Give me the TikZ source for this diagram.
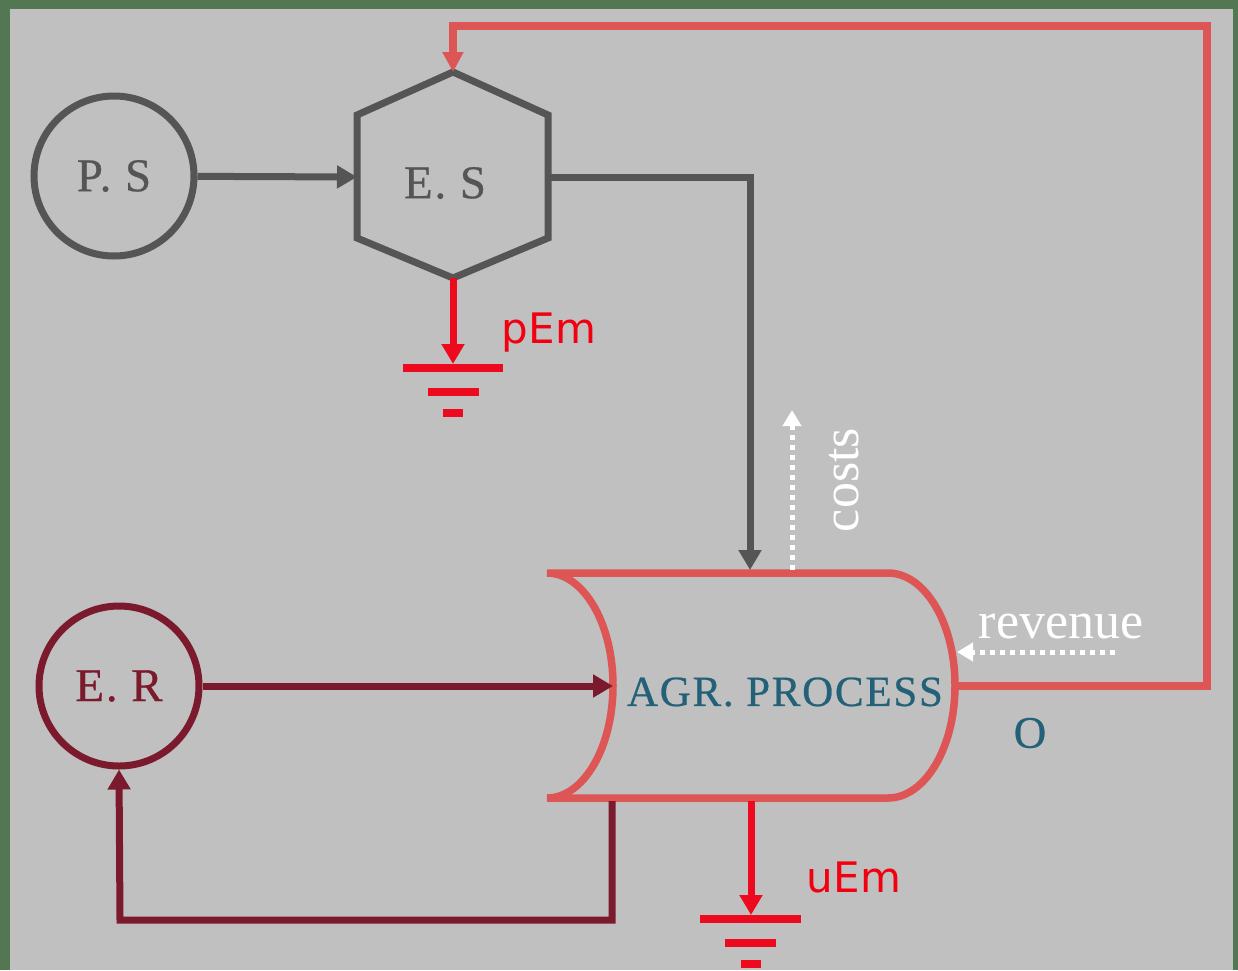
\documentclass[tikz,border=0pt]{standalone}
\usepackage{fontspec}
\setmainfont{Liberation Serif}
\newfontfamily\labelserif{Liberation Serif}[FakeBold=0.6, LetterSpace=4]
\newfontfamily\sansf{DejaVu Sans}
\usetikzlibrary{arrows.meta}
\definecolor{bgGray}{HTML}{C0C0C0}
\definecolor{frameGreen}{HTML}{537653}
\definecolor{darkGray}{HTML}{555555}
\definecolor{procRed}{HTML}{DD5555}
\definecolor{brightRed}{HTML}{EE0A1E}
\definecolor{textRed}{HTML}{F20010}
\definecolor{erRed}{HTML}{7B1A2C}
\definecolor{tealText}{HTML}{236178}
\tikzset{
  tip/.style={-{Triangle[length=20pt,width=22pt]}},
  grayline/.style={draw=darkGray, line width=7pt},
  redline/.style={draw=procRed, line width=7.5pt},
  erline/.style={draw=erRed, line width=7pt},
  emline/.style={draw=brightRed, line width=7pt},
  groundbar/.style={draw=brightRed, line width=8pt},
  dotline/.style={draw=white, line width=5pt, dash pattern=on 5pt off 5pt},
  ringnode/.style={circle, minimum size=160pt, line width=7pt, inner sep=0pt},
  serifbig/.style={font=\labelserif\fontsize{47}{56}\selectfont},
  sanslabel/.style={font=\sansf\fontsize{42}{50}\selectfont, text=textRed},
  whitelabel/.style={font=\fontsize{52}{60}\selectfont, text=white},
}
\begin{document}
\begin{tikzpicture}[x=1pt,y=-1pt]
\useasboundingbox (0,0) rectangle (1238,970);
\fill[frameGreen] (0,0) rectangle (1238,970);
\fill[bgGray] (10,9) rectangle (1233,970);

% P.S and E.R circles
\node[ringnode, draw=darkGray, text=darkGray, serifbig] (ps) at (114,176) {P. S};
\node[ringnode, draw=erRed, text=erRed, serifbig] (er) at (119,686) {E. R};

% hexagon E.S
\coordinate (hT) at (453,72);
\coordinate (hUR) at (548,115);
\coordinate (hLR) at (548,238);
\coordinate (hB) at (453,278);
\coordinate (hLL) at (357,238);
\coordinate (hUL) at (357,115);
\draw[grayline, line join=miter] (hT) -- (hUR) -- (hLR) -- (hB) -- (hLL) -- (hUL) -- cycle;
\node[serifbig, text=darkGray] (es) at (445,183) {E. S};
\coordinate (hL) at (357,177);
\coordinate (hR) at (548,177);

% AGR process shape
\coordinate (aTL) at (547,573);
\coordinate (aTR) at (888,573);
\coordinate (aBL) at (547,798);
\draw[redline] (aTL) -- (aTR) arc[start angle=-90, end angle=90, x radius=67, y radius=112.5]
  -- (aBL) arc[start angle=90, end angle=-90, x radius=66, y radius=112.5] -- cycle;
\node[font=\labelserif\fontsize{43}{54}\selectfont, text=tealText] (agr) at (785,692) {AGR. PROCESS};
\coordinate (aL) at (613,686);
\coordinate (aR) at (955,686);
\coordinate (aTop) at (750,570);
\coordinate (aBot1) at (612,801);
\coordinate (aBot2) at (751,801);

% P.S -> E.S
\draw[grayline, tip] (ps) -- (hL);
% E.S -> AGR
\coordinate (esBend) at (750,177);
\draw[grayline, tip, line join=miter] (hR) -- (esBend) -- (aTop);

% E.R -> AGR
\draw[erline, tip] (er) -- (aL);
% AGR -> E.R feedback
\coordinate (fb1) at (612,920);
\coordinate (fb2) at (120,920);
\draw[erline, tip, line join=miter] (aBot1) -- (fb1) -- (fb2) -- (er.south);

% output loop to E.S
\coordinate (o1) at (1207,686);
\coordinate (o2) at (1207,26);
\coordinate (o3) at (453,26);
\draw[redline, line join=miter, -{Triangle[length=20pt,width=20pt]}] (aR) -- (o1) -- (o2) -- (o3) -- (hT);
\node[font=\labelserif\fontsize{45}{54}\selectfont, text=tealText] (olab) at (1030,733) {O};

% pEm ground
\coordinate (pg) at (453,364);
\draw[emline, tip] (hB) -- (pg);
\coordinate (pg1a) at (403,368); \coordinate (pg1b) at (503,368);
\coordinate (pg2a) at (428,392); \coordinate (pg2b) at (479,392);
\coordinate (pg3a) at (443,413); \coordinate (pg3b) at (463,413);
\draw[groundbar] (pg1a) -- (pg1b);
\draw[groundbar] (pg2a) -- (pg2b);
\draw[groundbar] (pg3a) -- (pg3b);
\node[sanslabel] (pem) at (549,333) {pEm};

% uEm ground
\coordinate (ug) at (751,915);
\draw[emline, tip] (aBot2) -- (ug);
\coordinate (ug1a) at (700,919); \coordinate (ug1b) at (801,919);
\coordinate (ug2a) at (725,943); \coordinate (ug2b) at (776,943);
\coordinate (ug3a) at (741,964); \coordinate (ug3b) at (761,964);
\draw[groundbar] (ug1a) -- (ug1b);
\draw[groundbar] (ug2a) -- (ug2b);
\draw[groundbar] (ug3a) -- (ug3b);
\node[sanslabel] (uem) at (854,877) {uEm};

% costs
\coordinate (c0) at (792,570);
\coordinate (c1) at (792,410);
\draw[dotline, -{Triangle[length=16pt,width=18pt]}] (c0) -- (c1);
\node[whitelabel, rotate=90] (costs) at (844,480) {costs};

% revenue
\coordinate (r0) at (1115,652);
\coordinate (r1) at (957,652);
\draw[dotline, -{Triangle[length=16pt,width=18pt]}] (r0) -- (r1);
\node[whitelabel] (rev) at (1061,626) {revenue};
\end{tikzpicture}
\end{document}
